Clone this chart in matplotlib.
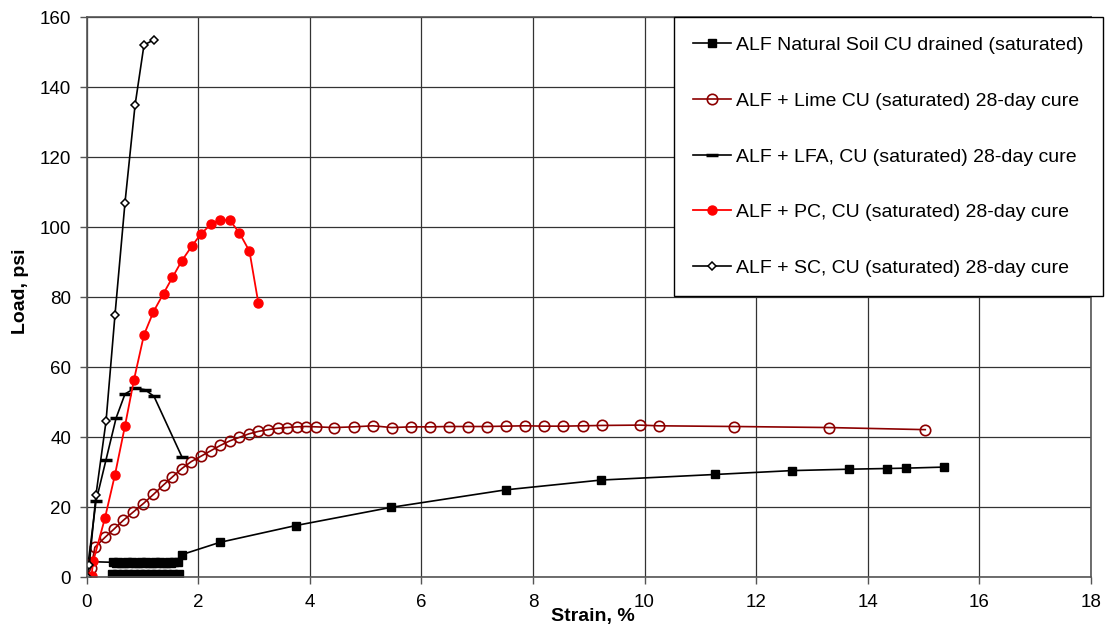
import numpy as np
import matplotlib
matplotlib.use('Agg')
import matplotlib.pyplot as plt

plt.rcParams['font.family'] = ['Liberation Sans', 'DejaVu Sans']

# ALF natural soil (drained) - main curve
natural_x = [0.00, 0.03, 0.47, 0.52, 0.57, 0.62, 0.67, 0.72, 0.77, 0.82, 0.87, 0.92,
             0.97, 1.02, 1.07, 1.12, 1.17, 1.22, 1.27, 1.32, 1.37, 1.42, 1.47, 1.52,
             1.57, 1.64, 1.71, 2.39, 3.75, 5.46, 7.51, 9.22, 11.27, 12.64, 13.66,
             14.35, 14.69, 15.36]
natural_y = [0.2, 4.4, 4.2, 4.0, 4.3, 4.1, 3.9, 4.2, 4.0, 4.3, 4.1, 3.9,
             4.2, 4.0, 4.3, 4.1, 3.9, 4.2, 4.0, 4.3, 4.1, 3.9, 4.2, 4.0,
             4.3, 4.2, 6.4, 9.9, 14.7, 19.9, 24.9, 27.7, 29.3, 30.4, 30.8,
             31.0, 31.1, 31.4]
# lower band of logger readings at the start of the same test
natural_low_x = [0.45, 0.50, 0.55, 0.60, 0.65, 0.70, 0.75, 0.80, 0.85, 0.90, 0.95,
                 1.00, 1.05, 1.10, 1.15, 1.20, 1.25, 1.30, 1.35, 1.40, 1.45, 1.50,
                 1.55, 1.60, 1.65]
natural_low_y = [0.8, 0.6, 0.9, 0.7, 0.8, 0.6, 0.9, 0.7, 0.8, 0.6, 0.9,
                 0.7, 0.8, 0.6, 0.9, 0.7, 0.8, 0.6, 0.9, 0.7, 0.8, 0.6,
                 0.9, 0.7, 0.8]

lime_x = [0.00, 0.08, 0.15, 0.33, 0.50, 0.66, 0.84, 1.02, 1.20, 1.38, 1.54, 1.71,
          1.88, 2.05, 2.23, 2.40, 2.57, 2.74, 2.91, 3.08, 3.25, 3.43, 3.59, 3.77,
          3.93, 4.11, 4.44, 4.79, 5.13, 5.47, 5.82, 6.15, 6.49, 6.83, 7.17, 7.52,
          7.86, 8.20, 8.54, 8.89, 9.23, 9.91, 10.25, 11.61, 13.31, 15.03]
lime_y = [0.0, 2.5, 8.5, 11.3, 13.8, 16.2, 18.6, 21.0, 23.6, 26.3, 28.6, 31.0,
          33.0, 34.5, 36.1, 37.6, 38.9, 39.9, 40.9, 41.6, 42.1, 42.5, 42.7, 42.9,
          43.0, 42.9, 42.7, 42.9, 43.2, 42.7, 42.9, 42.9, 43.0, 43.0, 43.0, 43.1,
          43.2, 43.1, 43.1, 43.2, 43.3, 43.4, 43.2, 43.0, 42.7, 42.1]

lfa_x = [0.00, 0.03, 0.17, 0.35, 0.53, 0.69, 0.87, 1.05, 1.21, 1.71]
lfa_y = [0.0, 4.0, 21.6, 33.5, 45.4, 52.3, 54.0, 53.5, 51.6, 34.3]

pc_x = [0.05, 0.09, 0.12, 0.33, 0.51, 0.69, 0.85, 1.03, 1.20, 1.38, 1.54, 1.71,
        1.89, 2.05, 2.23, 2.39, 2.57, 2.74, 2.92, 3.08]
pc_y = [0.0, 0.3, 4.5, 16.8, 29.2, 43.2, 56.3, 69.2, 75.8, 81.0, 85.6, 90.4,
        94.6, 98.0, 100.8, 102.1, 101.9, 98.3, 93.1, 78.2]

sc_x = [0.00, 0.05, 0.17, 0.35, 0.51, 0.69, 0.87, 1.03, 1.21]
sc_y = [0.0, 3.5, 23.5, 44.5, 74.8, 107.0, 134.8, 152.0, 153.5]

labels = ['ALF Natural Soil CU drained (saturated)',
          'ALF + Lime CU (saturated) 28-day cure',
          'ALF + LFA, CU (saturated) 28-day cure',
          'ALF + PC, CU (saturated) 28-day cure',
          'ALF + SC, CU (saturated) 28-day cure']

fig = plt.figure(figsize=(11.07, 6.31), dpi=100)
ax = fig.add_axes([86.5/1107, 1-577/631, (1091-86.5)/1107, 560/631])

ax.plot(natural_x, natural_y, '-s', color='black', lw=1.2, ms=5.8, label=labels[0])
ax.plot(natural_low_x, natural_low_y, '-s', color='black', lw=1.2, ms=5.8)
ax.plot(lime_x, lime_y, '-o', color='#8c0000', lw=1.2, ms=7.5, mfc='none',
        mew=1.2, label=labels[1])
ax.plot(lfa_x, lfa_y, '-_', color='black', lw=1.2, ms=9, mew=2.5, label=labels[2])
ax.plot(pc_x, pc_y, '-o', color='red', lw=1.3, ms=6.5, label=labels[3])
ax.plot(sc_x, sc_y, '-D', color='black', lw=1.2, ms=4.5, mfc='white', mew=1.1,
        label=labels[4])

ax.set_xlim(0, 18)
ax.set_ylim(0, 160)
ax.set_xticks(np.arange(0, 19, 2))
ax.set_yticks(np.arange(0, 161, 20))
ax.grid(True, color='#333333', lw=0.9)
ax.set_axisbelow(True)
ax.tick_params(direction='out', length=5, width=1, labelsize=13.5, color='#555555')
ax.tick_params(axis='x', pad=7)
ax.tick_params(axis='y', pad=6)
for s in ax.spines.values():
    s.set_color('#555555')
    s.set_linewidth(1.2)

ax.set_ylabel('Load, psi', fontsize=14, fontweight='bold', va='center')
ax.yaxis.set_label_coords(-0.066, 0.51)
ax.set_xlabel('Strain, %', fontsize=14, fontweight='bold', va='center')
ax.xaxis.set_label_coords(0.504, -0.071)

leg = ax.legend(loc='upper left', bbox_to_anchor=(674/1107, 1-17/631),
                bbox_transform=fig.transFigure, fontsize=14, frameon=True,
                fancybox=False, edgecolor='black', framealpha=1,
                handlelength=1.95, handletextpad=0.25, labelspacing=1.96,
                borderpad=1.0, borderaxespad=0)
leg.get_frame().set_linewidth(1.0)

fig.savefig('out.png', dpi=100)
